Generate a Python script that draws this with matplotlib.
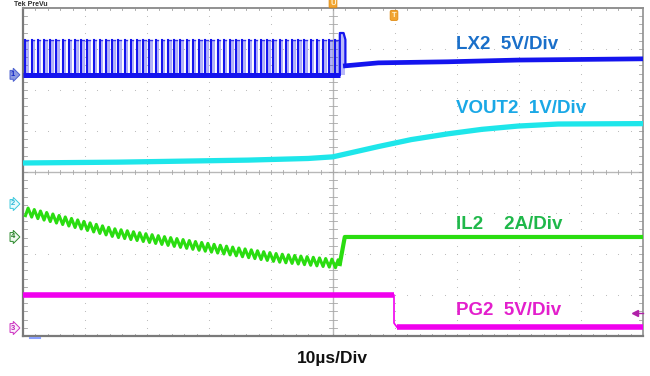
import numpy as np
import matplotlib
matplotlib.use("Agg")
import matplotlib.pyplot as plt

plt.rcParams['font.family'] = ['Liberation Sans', 'DejaVu Sans']

# ---- scope setup -------------------------------------------------------
TIME_PER_DIV = 10.0          # us / div
N_HDIV, N_VDIV = 10, 8

# channel settings: (ground offset in div, units per div)
LX2_OFFSET, LX2_SCALE = 2.37, 5.0      # V/div
VOUT_OFFSET, VOUT_SCALE = -0.78, 1.0   # V/div
IL2_OFFSET, IL2_SCALE = -1.585, 2.0    # A/div
PG2_OFFSET, PG2_SCALE = -3.805, 5.0    # V/div

# ---- LX2: switching node ---------------------------------------------
lx2_period = 1.0             # us
lx2_on_time = 0.42           # us
lx2_first_edge = -49.6       # us
lx2_last_edge = 1.1          # us (final, wider pulse)
lx2_last_fall = 2.0          # us
lx2_low = 0.0                # V
lx2_high = 4.3               # V
lx2_last_high = 5.1          # V
lx2_after_t = [2.0, 7.3, 18.5, 29.8, 49.7, 50.0]      # us
lx2_after_v = [1.10, 1.46, 1.59, 1.80, 1.95, 1.95]    # V

# ---- VOUT2 -------------------------------------------------------------
vout_t = [-50.0, -34.7, -13.7, -4.0, 0.0, 3.5, 7.3, 12.6, 18.5, 24.0, 29.8, 36.3, 50.0]
vout_v = [1.00, 1.02, 1.07, 1.11, 1.15, 1.27, 1.40, 1.57, 1.71, 1.82, 1.90, 1.95, 1.96]

# ---- IL2: inductor current envelope -----------------------------------
il2_env_t = [-50.0, -35.2, -21.8, -8.9, 1.1]
il2_env_a = [1.27, 0.20, -0.44, -1.02, -1.32]
il2_ripple = 0.40            # A peak-to-peak
il2_after_t = [1.1, 1.9, 50.0]
il2_after_a = [-1.32, 0.0, 0.0]

# ---- PG2 ----------------------------------------------------------------
pg2_t = [-50.0, 9.84, 9.84, 10.3, 50.0]
pg2_v = [4.0, 4.0, 0.6, 0.12, 0.12]

# ---- colours -------------------------------------------------------------
C_LX2, C_VOUT, C_IL2, C_PG2 = '#1414ee', '#1ee6ea', '#2add10', '#f000ee'
L_LX2, L_VOUT, L_IL2, L_PG2 = '#1a6fc9', '#1aa8e6', '#1fb84a', '#e31fcc'

fig = plt.figure(figsize=(6.5, 3.76), dpi=100)
ax = fig.add_axes([23 / 650, 40 / 376, 620 / 650, 328 / 376])
xmax = TIME_PER_DIV * N_HDIV / 2
ax.set_xlim(-xmax, xmax)
ax.set_ylim(-N_VDIV / 2, N_VDIV / 2)
ax.axis('off')


def lx(v):
    return LX2_OFFSET + np.asarray(v) / LX2_SCALE


def vo(v):
    return VOUT_OFFSET + np.asarray(v) / VOUT_SCALE


def il(a):
    return IL2_OFFSET + np.asarray(a) / IL2_SCALE


def pg(v):
    return PG2_OFFSET + np.asarray(v) / PG2_SCALE


# ---- graticule -----------------------------------------------------------
dot_c = '#b4b4b4'
minor_x = np.arange(-xmax, xmax + 1e-9, TIME_PER_DIV / 5)
minor_y = np.arange(-4, 4 + 1e-9, 0.2)
for xv in np.arange(-xmax + TIME_PER_DIV, xmax, TIME_PER_DIV):
    if abs(xv) < 1e-9:
        continue
    ax.scatter(np.full(minor_y.size, xv), minor_y, s=0.6, c=dot_c, lw=0)
for yv in range(-3, 4):
    if yv == 0:
        continue
    ax.scatter(minor_x, np.full(minor_x.size, yv), s=0.6, c=dot_c, lw=0)

# centre cross with minor ticks
ax.axvline(0, color='#b8b8b8', lw=1.0, zorder=1)
ax.axhline(0, color='#b8b8b8', lw=1.0, zorder=1)
for yv in minor_y:
    ax.plot([-0.6, 0.6], [yv, yv], color='#a8a8a8', lw=0.6, zorder=1)
for xv in minor_x:
    ax.plot([xv, xv], [-0.06, 0.06], color='#a8a8a8', lw=0.6, zorder=1)
# ticks on the frame
for yv in minor_y:
    ax.plot([-xmax, -xmax + 0.6], [yv, yv], color='#a0a0a0', lw=0.6)
    ax.plot([xmax - 0.6, xmax], [yv, yv], color='#a0a0a0', lw=0.6)
for xv in minor_x:
    ax.plot([xv, xv], [-4, -3.94], color='#a0a0a0', lw=0.6)
    ax.plot([xv, xv], [3.94, 4], color='#a0a0a0', lw=0.6)
frame_c = '#7a7a7a'
ax.plot([-xmax, -xmax], [-4, 4], color=frame_c, lw=1.6, clip_on=False)
ax.plot([xmax, xmax], [-4, 4], color='#909090', lw=1.2, clip_on=False)
ax.plot([-xmax, xmax], [4, 4], color='#909090', lw=1.4, clip_on=False)
ax.plot([-xmax, xmax], [-4, -4], color=frame_c, lw=1.6, clip_on=False)

# ---- LX2 trace -------------------------------------------------------------
edges = np.arange(lx2_first_edge, lx2_last_edge - 0.3, lx2_period)
for t0 in edges:
    t1 = t0 + lx2_on_time
    ax.fill_between([t0, t1], lx(lx2_low), lx(lx2_high), color=C_LX2,
                    alpha=0.32, lw=0, zorder=3)
    ax.plot([t0, t1], lx([lx2_high, lx2_high]),
            color=C_LX2, lw=1.0, alpha=0.8, zorder=4)
    ax.plot([t1, t1], lx([lx2_high, lx2_low]),
            color=C_LX2, lw=0.5, alpha=0.5, zorder=4)
    ax.plot([t0, t0], lx([lx2_low, lx2_high]), color=C_LX2, lw=1.5, zorder=4)
ax.plot([lx2_first_edge - 0.4, lx2_last_edge], lx([lx2_low, lx2_low]),
        color=C_LX2, lw=3.6, zorder=4, solid_capstyle='butt')
ax.plot([lx2_last_edge, lx2_last_edge, lx2_last_fall - 0.3, lx2_last_fall,
         lx2_last_fall],
        lx([lx2_low, lx2_last_high, lx2_last_high, lx2_high, lx2_after_v[0]]),
        color=C_LX2, lw=1.6, zorder=4)
ax.fill_between([lx2_last_edge, lx2_last_fall], lx(lx2_low), lx(lx2_last_high),
                color=C_LX2, alpha=0.3, lw=0, zorder=3)
ax.plot(lx2_after_t, lx(lx2_after_v), color=C_LX2, lw=3.4, zorder=4)

# ---- VOUT2 trace -----------------------------------------------------------
ax.plot(vout_t, vo(vout_v), color=C_VOUT, lw=3.8, zorder=4,
        solid_joinstyle='round')

# ---- IL2 trace ------------------------------------------------------------
saw_t, saw_a = [], []
for t0 in edges:
    for tv, sign in ((t0, -1), (t0 + lx2_on_time, 1)):
        saw_t.append(tv)
        saw_a.append(np.interp(tv, il2_env_t, il2_env_a) + sign * il2_ripple / 2)
saw_t.append(il2_after_t[0])
saw_a.append(il2_after_a[0])
ax.plot(saw_t, il(saw_a), color=C_IL2, lw=2.2, zorder=4)
ax.plot(il2_after_t, il(il2_after_a), color=C_IL2, lw=3.0, zorder=4)

# ---- PG2 trace -------------------------------------------------------------
ax.plot(pg2_t[:2], pg(pg2_v[:2]), color=C_PG2, lw=4.0, zorder=4,
        solid_capstyle='butt')
ax.plot(pg2_t[1:4], pg(pg2_v[1:4]), color=C_PG2, lw=1.2, zorder=4)
ax.plot(pg2_t[3:], pg(pg2_v[3:]), color=C_PG2, lw=4.0, zorder=4,
        solid_capstyle='butt')

# ---- channel labels ----------------------------------------------------------
lab_kw = dict(fontsize=13.5, fontweight='bold', ha='left', va='center', zorder=6)
ax.text(19.8, 3.12, 'LX2  5V/Div', color=L_LX2, **lab_kw)
ax.text(19.8, 1.54, 'VOUT2  1V/Div', color=L_VOUT, **lab_kw)
ax.text(19.8, -1.29, 'IL2    2A/Div', color=L_IL2, **lab_kw)
ax.text(19.8, -3.39, 'PG2  5V/Div', color=L_PG2, **lab_kw)

# ---- ground markers on the left edge -----------------------------------------
mk_x = -51.6
for yv, txt, ec, fc, tc in ((LX2_OFFSET, '1', '#4a5fd0', '#8c9ae0', '#1428c8'),
                            (VOUT_OFFSET, '2', '#3cc8dc', '#e8fbfd', '#30b8d8'),
                            (IL2_OFFSET, '4', '#2c8a2c', '#eef8ee', '#1f7a1f'),
                            (PG2_OFFSET, '3', '#cc30c0', '#fbeefb', '#c020b8')):
    ax.text(mk_x, yv, txt, fontsize=5.5, fontweight='bold', color=tc,
            ha='center', va='center', clip_on=False, zorder=7,
            bbox=dict(boxstyle='rarrow,pad=0.12', fc=fc, ec=ec, lw=0.7))

# trigger markers at the top
ax.text(0, 4.12, 'U', fontsize=5.5, fontweight='bold', color='#fff3d0',
        ha='center', va='center', clip_on=False, zorder=7,
        bbox=dict(boxstyle='round,pad=0.15', fc='#f2a531', ec='#e08a10', lw=0.6))
ax.text(9.84, 3.82, 'T', fontsize=5.5, fontweight='bold', color='#fff3d0',
        ha='center', va='center', clip_on=False, zorder=7,
        bbox=dict(boxstyle='round,pad=0.2', fc='#f2a531', ec='#e08a10', lw=0.6))

# PG2 threshold marker on the right edge
ax.plot([48.9, 50], [-3.44, -3.44], color='#b020a8', lw=1.0, clip_on=False, zorder=7)
ax.plot([48.7], [-3.44], marker='<', ms=4, color='#b020a8', clip_on=False, zorder=7)

# small cursor mark under the frame
ax.plot([-48.8, -47.3], [-4.06, -4.06], color='#8aa0ff', lw=1.5, clip_on=False)

# ---- header / time base text -------------------------------------------------
fig.text(14 / 650, 1 - 4 / 376, 'Tek PreVu', fontsize=5, color='#303030',
         fontweight='bold', ha='left', va='center')
fig.text(332 / 650, 1 - 359 / 376, '10\u00b5s/Div', fontsize=12.5,
         fontweight='bold', color='#111111', ha='center', va='center')

fig.savefig('out.png', dpi=100, facecolor='white')
